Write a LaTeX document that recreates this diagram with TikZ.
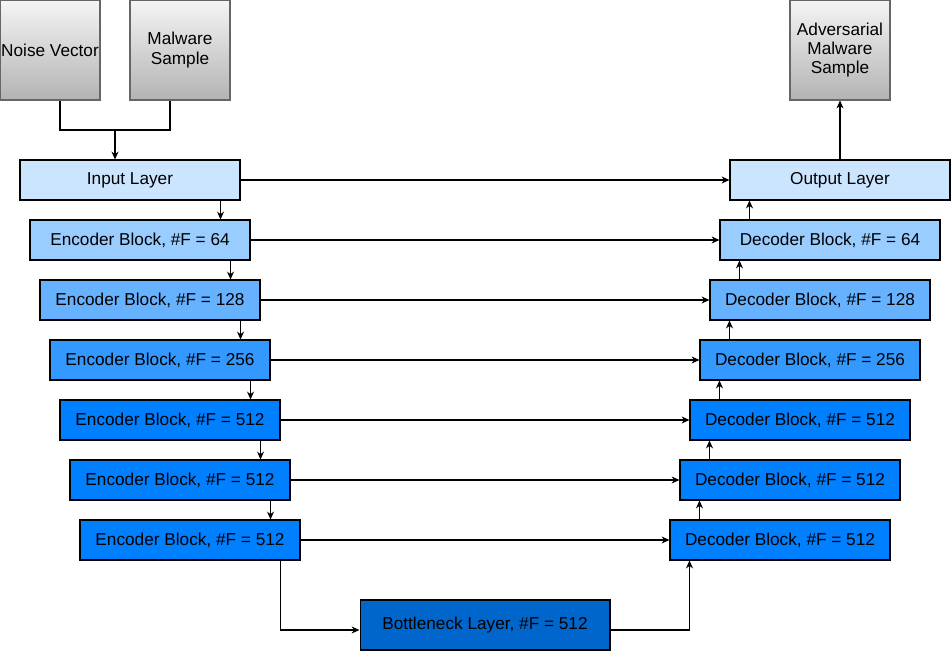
\documentclass[tikz,border=0pt]{standalone}
\usepackage{fontspec}
\setmainfont{Liberation Sans}
\usetikzlibrary{arrows.meta}
\definecolor{ioblue}{HTML}{CCE5FF}
\definecolor{blue64}{HTML}{99CCFF}
\definecolor{blue128}{HTML}{66B2FF}
\definecolor{blue256}{HTML}{3399FF}
\definecolor{blue512}{HTML}{007FFF}
\definecolor{bneckblue}{HTML}{0066CC}
\definecolor{greytop}{HTML}{F5F5F5}
\definecolor{greybot}{HTML}{B3B3B3}
\definecolor{greyline}{HTML}{666666}
\tikzset{
    layer/.style={draw, line width=0.6pt, minimum width=4.4cm, minimum height=0.8cm,
        inner sep=0pt, font=\fontsize{9.8}{11.5}\selectfont},
    datafile/.style={draw=greyline, line width=0.6pt, top color=greytop, bottom color=greybot,
        minimum width=2cm, minimum height=2cm, inner sep=0pt, align=center,
        font=\fontsize{9.8}{11}\selectfont},
    link/.style={-{Stealth[length=4.5pt,width=4pt]}, line width=0.6pt},
}

\begin{document}
\begin{tikzpicture}[x=0.02cm, y=-0.02cm]
    \useasboundingbox (0,0) rectangle (951,651);
    \node[datafile] (noise) at (50,50) {Noise Vector};
    \node[datafile] (malware) at (180,50) {Malware\\Sample};
    \node[datafile] (adv) at (840,50) {Adversarial\\Malware\\Sample};
    \node[layer, fill=ioblue] (input) at (130,180) {Input Layer};
    \node[layer, fill=ioblue] (output) at (840,180) {Output Layer};
    \foreach \i/\f/\c in {1/64/blue64, 2/128/blue128, 3/256/blue256, 4/512/blue512, 5/512/blue512, 6/512/blue512} {
        \node[layer, fill=\c] (enc\i) at ({130+10*\i}, {180+60*\i}) {Encoder Block, \#F = \f};
        \node[layer, fill=\c] (dec\i) at ({840-10*\i}, {180+60*\i}) {Decoder Block, \#F = \f};
    }
    \node[layer, fill=bneckblue, minimum width=5cm, minimum height=1cm] (bneck) at (485,625) {Bottleneck Layer, \#F = 512};

    % inputs merged into the first layer
    \coordinate (merge) at (115,130);
    \draw[line width=0.6pt] ([xshift=0.2cm]noise.south) |- (merge) -| ([xshift=-0.2cm]malware.south);
    \draw[link] (merge) -- (merge |- input.north);

    % down the encoder
    \draw[link] ([xshift=-0.4cm]input.south east) -- ([xshift=-0.4cm]input.south east |- enc1.north);
    \foreach \i/\j in {1/2, 2/3, 3/4, 4/5, 5/6}
        \draw[link] ([xshift=-0.4cm]enc\i.south east) -- ([xshift=-0.4cm]enc\i.south east |- enc\j.north);
    \draw[link] ([xshift=-0.4cm]enc6.south east) |- ([yshift=-0.1cm]bneck.west);

    % up the decoder
    \draw[link] ([yshift=-0.1cm]bneck.east) -| ([xshift=0.4cm]dec6.south west);
    \foreach \i/\j in {6/5, 5/4, 4/3, 3/2, 2/1}
        \draw[link] ([xshift=0.6cm]dec\i.north west) -- ([xshift=0.6cm]dec\i.north west |- dec\j.south);
    \draw[link] ([xshift=0.6cm]dec1.north west) -- ([xshift=0.6cm]dec1.north west |- output.south);
    \draw[link] (output.north) -- (adv.south);

    % skip connections
    \draw[link] (input.east) -- (output.west);
    \foreach \i in {1,...,6}
        \draw[link] (enc\i.east) -- (dec\i.west);
\end{tikzpicture}
\end{document}
